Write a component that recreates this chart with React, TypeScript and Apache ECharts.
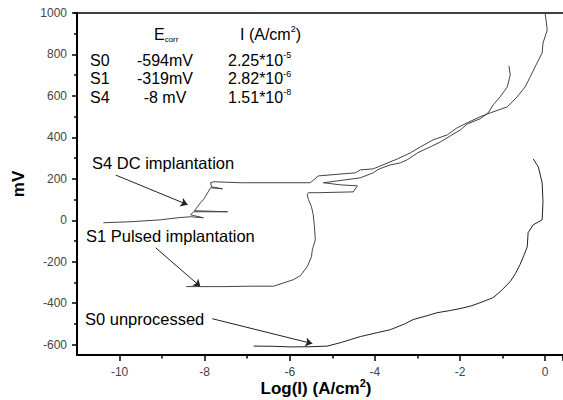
import React, { useEffect, useRef } from "react";
import * as echarts from "echarts";

const FONT = "'Liberation Sans', Arial, sans-serif";

// axis ticks
const xMajor = [-10, -8, -6, -4, -2, 0];
const xMinor = [-9, -7, -5, -3, -1];
const yMajor = [-600, -400, -200, 0, 200, 400, 600, 800, 1000];
const yMinor = [-500, -300, -100, 100, 300, 500, 700, 900];

// curves: [log(I), mV]
const s0Curve = [
  [-6.85, -607], [-6.4, -608], [-5.99, -611], [-5.5, -610], [-5.12, -607], [-4.8, -590],
  [-4.58, -576], [-4.34, -561], [-3.94, -542], [-3.64, -528], [-3.3, -500], [-3.1, -479],
  [-2.8, -462], [-2.54, -446], [-2.25, -436], [-2.0, -426], [-1.75, -414], [-1.53, -398],
  [-1.22, -373], [-1.06, -345], [-0.82, -296], [-0.7, -258], [-0.59, -214], [-0.5, -170],
  [-0.42, -128], [-0.4, -60], [-0.28, -22], [-0.07, 2], [-0.05, 89], [-0.07, 181],
  [-0.16, 258], [-0.28, 296],
];

const s1Curve = [
  [-8.43, -320], [-8.1, -320], [-7.5, -320], [-6.92, -318], [-6.38, -318], [-5.92, -287],
  [-5.75, -267], [-5.59, -224], [-5.49, -176], [-5.47, -142], [-5.4, -94], [-5.42, -31],
  [-5.45, 27], [-5.49, 65], [-5.56, 99], [-5.59, 123], [-5.56, 133], [-5.35, 133],
  [-4.51, 137], [-4.41, 166], [-4.81, 171], [-5.21, 181], [-4.34, 205], [-4.04, 229],
  [-3.94, 243], [-3.83, 253], [-3.64, 267], [-3.4, 277], [-3.24, 292], [-3.0, 325],
  [-2.7, 354], [-2.46, 378], [-2.23, 407], [-1.99, 436], [-1.83, 465], [-1.53, 489],
  [-1.34, 518], [-1.22, 557], [-1.06, 595], [-0.89, 643], [-0.82, 701], [-0.85, 745],
];

const s4Curve = [
  [-10.38, -12], [-9.74, -7], [-9.04, 2], [-8.64, 12], [-8.33, 17], [-8.03, 12],
  [-8.24, 22], [-8.33, 27], [-8.26, 41], [-7.46, 41], [-8.24, 46], [-8.17, 65],
  [-8.1, 84], [-8.03, 99], [-7.93, 133], [-7.86, 157], [-7.58, 152], [-7.84, 161],
  [-7.86, 181], [-7.79, 186], [-7.16, 181], [-5.52, 181], [-5.33, 214], [-4.46, 229],
  [-4.34, 243], [-4.04, 248], [-3.92, 258], [-3.47, 296], [-3.17, 325], [-2.93, 354],
  [-2.63, 388], [-2.3, 412], [-2.07, 446], [-1.83, 470], [-1.53, 499], [-1.29, 518],
  [-0.89, 547], [-0.66, 595], [-0.47, 643], [-0.35, 692], [-0.19, 759], [-0.07, 807],
  [-0.05, 855], [0.05, 918], [0.0, 1000],
];

// annotation arrows: [from, to] in data coords
const arrowS4 = [[-10.09, 218], [-8.4, 75]];
const arrowS1 = [[-9.15, -133], [-8.1, -320]];
const arrowS0 = [[-7.82, -475], [-5.47, -595]];

// table texts
const rowNames = ["S0", "S1", "S4"];
const ecorrValues = ["-594mV", "-319mV", "-8 mV"];
const icorrMantissa = ["2.25*10", "2.82*10", "1.51*10"];
const icorrExponent = ["-5", "-6", "-8"];

export default function App() {
  const ref = useRef<HTMLDivElement>(null);

  useEffect(() => {
    document.body.style.margin = "0";
    const chart = echarts.init(ref.current!, null, { renderer: "svg" });

    const axisLine = { show: true, onZero: false, lineStyle: { color: "#000", width: 2 } };
    const labelStyle = { fontSize: 12, color: "#444", fontFamily: FONT, formatter: (v: number) => String(v) };
    const xMin = -11, xMax = 0.42, yMin = -650, yMax = 1000;
    const G = { left: 77, top: 13, right: 0, bottom: 45 };
    const W = 563 - G.left - G.right, H = 400 - G.top - G.bottom;
    const ux = W / (xMax - xMin);
    const uy = H / (yMax - yMin);

    // tick-only grids, aligned with the main grid so each starts on its first tick value
    const xTickStart = [xMajor[0], xMinor[0]];
    const yTickStart = [yMajor[0], yMinor[0]];
    const grids = [
      { ...G },
      { ...G, left: G.left + (xTickStart[0] - xMin) * ux },
      { ...G, left: G.left + (xTickStart[1] - xMin) * ux },
      { ...G, bottom: G.bottom + (yTickStart[0] - yMin) * uy },
      { ...G, bottom: G.bottom + (yTickStart[1] - yMin) * uy },
    ];
    const hiddenAxis = (gridIndex: number) => ({
      type: "value", gridIndex, show: false, min: 0, max: 1,
    });
    const tickOnlyX = (gridIndex: number, min: number, len: number) => ({
      type: "value", gridIndex, position: "bottom", min, max: xMax, interval: 2,
      axisLine: { show: false, onZero: false },
      axisTick: { show: true, inside: false, length: len, lineStyle: { color: "#000", width: 1.5 } },
      axisLabel: { show: false }, splitLine: { show: false },
    });
    const tickOnlyY = (gridIndex: number, min: number, len: number) => ({
      type: "value", gridIndex, position: "left", min, max: yMax, interval: 200,
      axisLine: { show: false, onZero: false },
      axisTick: { show: true, inside: false, length: len, lineStyle: { color: "#000", width: 1.5 } },
      axisLabel: { show: false }, splitLine: { show: false },
    });

    const rowY = [60, 78.5, 97];
    const tableText: any[] = [];
    rowNames.forEach((n, i) => {
      tableText.push({
        type: "text", x: 90, y: rowY[i],
        style: { text: n, fontSize: 16, fontFamily: FONT, fill: "#000", align: "left", verticalAlign: "middle" },
      });
      tableText.push({
        type: "text", x: 165, y: rowY[i],
        style: { text: ecorrValues[i], fontSize: 16, fontFamily: FONT, fill: "#000", align: "center", verticalAlign: "middle" },
      });
      tableText.push({
        type: "text", x: 228, y: rowY[i],
        style: {
          text: `{m|${icorrMantissa[i]}}{s|${icorrExponent[i]}}`,
          align: "left", verticalAlign: "middle",
          rich: {
            m: { fontSize: 16, fontFamily: FONT, fill: "#000" },
            s: { fontSize: 9, fontFamily: FONT, fill: "#000", verticalAlign: "top", padding: [0, 0, 10, 0] },
          },
        },
      });
    });

    const annot = (text: string, x: number, y: number) => ({
      type: "text", x, y,
      style: { text, fontSize: 16.5, fontFamily: FONT, fill: "#000", align: "left", verticalAlign: "middle" },
    });

    const arrowSeries = (coords: number[][]) => ({
      type: "lines",
      coordinateSystem: "cartesian2d",
      xAxisIndex: 0,
      yAxisIndex: 0,
      symbol: ["none", "arrow"],
      symbolSize: 7,
      lineStyle: { color: "#222", width: 1, opacity: 1 },
      data: [{ coords }],
      silent: true,
    });

    const curve = (name: string, data: number[][], color: string) => ({
      name, type: "line", data, xAxisIndex: 0, yAxisIndex: 0,
      showSymbol: false, symbol: "none", clip: false,
      lineStyle: { color, width: 1 }, silent: true,
    });

    chart.setOption({
      animation: false,
      backgroundColor: "#fff",
      grid: grids.map((g) => ({ ...g, containLabel: false })),
      xAxis: [
        {
          type: "value", gridIndex: 0, position: "bottom", min: xMin, max: xMax,
          axisLine,
          axisTick: { show: false },
          axisLabel: { ...labelStyle, customValues: xMajor, margin: 11 },
          splitLine: { show: false },
        },
        {
          type: "value", gridIndex: 0, position: "top", min: xMin, max: xMax,
          axisLine: { show: true, onZero: false, lineStyle: { color: "#000", width: 1.5 } },
          axisTick: { show: false }, axisLabel: { show: false }, splitLine: { show: false },
        },
        tickOnlyX(1, xTickStart[0], 6),
        tickOnlyX(2, xTickStart[1], 3.5),
        hiddenAxis(3),
        hiddenAxis(4),
      ],
      yAxis: [
        {
          type: "value", gridIndex: 0, position: "left", min: yMin, max: yMax,
          axisLine,
          axisTick: { show: false },
          axisLabel: { ...labelStyle, customValues: yMajor, margin: 10 },
          splitLine: { show: false },
        },
        hiddenAxis(1),
        hiddenAxis(2),
        tickOnlyY(3, yTickStart[0], 5),
        tickOnlyY(4, yTickStart[1], 3),
      ],
      series: [
        curve("S0 unprocessed", s0Curve, "#222"),
        curve("S1 Pulsed implantation", s1Curve, "#444"),
        curve("S4 DC implantation", s4Curve, "#444"),
        arrowSeries(arrowS4),
        arrowSeries(arrowS1),
        arrowSeries(arrowS0),
      ],
      graphic: [
        {
          type: "text", x: 154, y: 34,
          style: {
            text: "{e|E}{c|corr}", align: "left", verticalAlign: "middle",
            rich: {
              e: { fontSize: 16, fontFamily: FONT, fill: "#000" },
              c: { fontSize: 8, fontFamily: FONT, fill: "#000", verticalAlign: "bottom", padding: [10, 0, 0, 0] },
            },
          },
        },
        {
          type: "text", x: 240, y: 34,
          style: {
            text: "{m|I (A/cm}{s|2}{m|)}", align: "left", verticalAlign: "middle",
            rich: {
              m: { fontSize: 16, fontFamily: FONT, fill: "#000" },
              s: { fontSize: 9, fontFamily: FONT, fill: "#000", verticalAlign: "top", padding: [0, 0, 10, 0] },
            },
          },
        },
        ...tableText,
        annot("S4 DC implantation", 92, 163),
        annot("S1 Pulsed implantation", 86, 236),
        annot("S0 unprocessed", 85, 319),
        {
          type: "text", x: 316, y: 388,
          style: {
            text: "{t|Log(I) (A/cm}{s|2}{t|)}", align: "center", verticalAlign: "middle",
            rich: {
              t: { fontSize: 17, fontWeight: "bold", fontFamily: FONT, fill: "#000" },
              s: { fontSize: 11, fontWeight: "bold", fontFamily: FONT, fill: "#000", verticalAlign: "top", padding: [0, 0, 10, 0] },
            },
          },
        },
        {
          type: "text", x: 18, y: 184, rotation: Math.PI / 2,
          style: { text: "mV", fontSize: 17, fontWeight: "bold", fontFamily: FONT, fill: "#000", align: "center", verticalAlign: "middle" },
        },
      ],
    });

    return () => chart.dispose();
  }, []);

  return <div ref={ref} style={{ width: 563, height: 400 }} />;
}
